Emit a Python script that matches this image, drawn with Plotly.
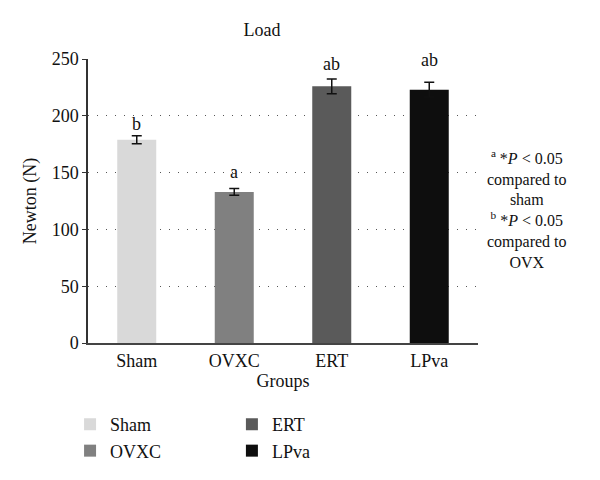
import plotly.graph_objects as go

groups = ["Sham", "OVXC", "ERT", "LPva"]
load_means = [179, 133, 226, 223]
load_errors = [3.5, 3, 6.5, 6.5]
sig_labels = ["b", "a", "ab", "ab"]
note_text = ("<sup>a</sup> *<i>P</i> < 0.05<br>compared to<br>sham<br>"
             "<sup>b</sup> *<i>P</i> < 0.05<br>compared to<br>OVX")

bar_colors = ["#d9d9d9", "#808080", "#5a5a5a", "#0e0e0e"]
legend_ids = ["legend", "legend", "legend2", "legend2"]
label_shift = [0, 5, 3, 10]

FONT = "Liberation Serif, Times New Roman, serif"
OFF = 8            # page body margin offset
PL, PT, PW, PH = 88, 59, 390, 284   # plot area in screenshot pixels

fig = go.Figure()
for g, m, e, c, lg in zip(groups, load_means, load_errors, bar_colors, legend_ids):
    fig.add_trace(go.Bar(
        x=[g], y=[m], name=g, marker=dict(color=c, line=dict(width=0)),
        width=0.4, legend=lg,
        error_y=dict(type="data", array=[e], color="#111", thickness=1.5, width=5),
    ))

for g, m, e, s, sh in zip(groups, load_means, load_errors, sig_labels, label_shift):
    fig.add_annotation(x=g, y=m + e, text=s, showarrow=False, yanchor="bottom",
                       yshift=sh, font=dict(size=18, color="#111", family=FONT))

fig.add_annotation(
    xref="paper", yref="paper", x=(527 - PL) / PW, y=(PT + PH - 209) / PH,
    xanchor="center", yanchor="middle", text=note_text, showarrow=False,
    align="center", font=dict(size=16, color="#111", family=FONT),
)

fig.update_layout(
    width=600, height=480,
    margin=dict(l=PL - OFF, r=600 - (PL - OFF) - PW, t=PT - OFF, b=480 - (PT - OFF) - PH,
                autoexpand=False),
    paper_bgcolor="white", plot_bgcolor="white",
    barmode="overlay",
    font=dict(family=FONT, size=18, color="#111"),
    title=dict(text="Load", x=(262 - OFF) / 600, xanchor="center",
               y=1 - (30 - OFF) / 480, yanchor="middle",
               font=dict(size=18, family=FONT, color="#111")),
    xaxis=dict(
        categoryorder="array", categoryarray=groups, range=[-0.5, 3.5],
        showline=True, linecolor="#444", linewidth=2, ticks="", showgrid=False,
        title=dict(text="Groups", standoff=4, font=dict(size=18)),
        tickfont=dict(size=18),
    ),
    yaxis=dict(
        range=[0, 250], tickvals=[0, 50, 100, 150, 200, 250],
        showline=True, linecolor="#333", linewidth=1.5, ticks="outside", ticklen=4,
        tickcolor="#333",
        showgrid=True, gridcolor="#555", griddash="1px,8px", gridwidth=1,
        zeroline=False,
        title=dict(text="Newton (N)", standoff=10, font=dict(size=18)),
        tickfont=dict(size=18),
    ),
    legend=dict(x=-0.046, y=-0.222, xanchor="left", yanchor="top", orientation="v",
                font=dict(size=18), bgcolor="rgba(0,0,0,0)", tracegroupgap=0),
    legend2=dict(x=0.369, y=-0.222, xanchor="left", yanchor="top", orientation="v",
                 font=dict(size=18), bgcolor="rgba(0,0,0,0)", tracegroupgap=0),
)

fig.write_html("out.html")
